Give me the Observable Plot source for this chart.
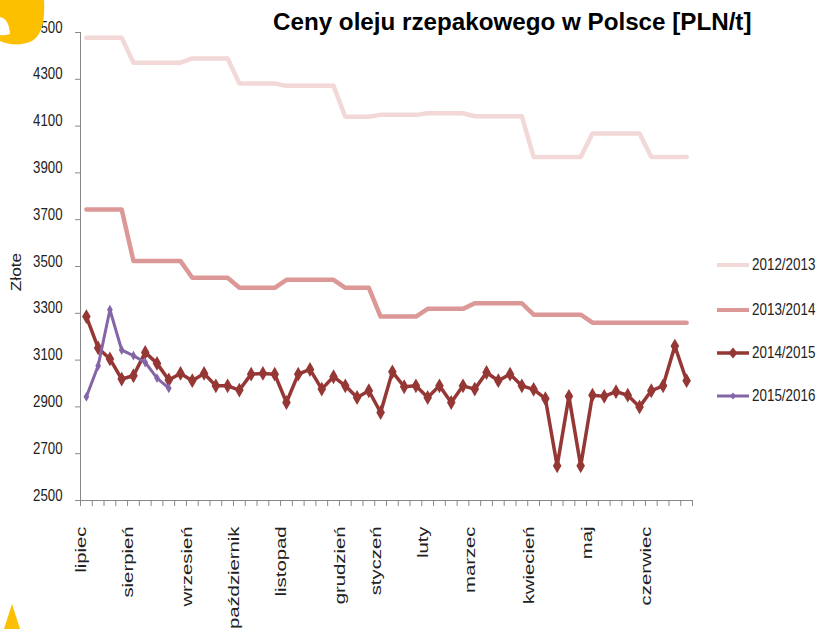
<!DOCTYPE html>
<html><head><meta charset="utf-8">
<script src="https://cdn.jsdelivr.net/npm/d3@7"></script>
<script src="https://cdn.jsdelivr.net/npm/@observablehq/plot@0.6"></script>
<style>
body{margin:0;background:#fff;}
#wrap{position:relative;width:816px;height:629px;overflow:hidden;font-family:"Liberation Sans",Arial,sans-serif;}
#title{position:absolute;left:273px;top:8px;font-weight:bold;font-size:24.2px;color:#000;white-space:nowrap;}
#ylab{position:absolute;left:15px;top:272px;font-size:15px;color:#222;transform:translate(-50%,-50%) rotate(-90deg) scaleX(1.15);white-space:nowrap;}
#legend{position:absolute;left:716px;top:0;}
.li{position:absolute;left:0;display:flex;align-items:center;white-space:nowrap;}
.li span{font-size:16.8px;color:#222;display:inline-block;transform:scaleX(0.8);transform-origin:0 50%;margin-left:2px;}
#deco{position:absolute;left:0;top:0;pointer-events:none;}
</style></head><body>
<div id="wrap"></div>
<script>
// x categories: 52 weekly points (July .. June)
const monthLabels = ["lipiec","sierpień","wrzesień","październik","listopad","grudzień","styczeń","luty","marzec","kwiecień","maj","czerwiec"];
const monthWeek   = [0,4,9,13,17,22,25,29,33,38,43,48];
const yTicks = [2500,2700,2900,3100,3300,3500,3700,3900,4100,4300,4500];
const seriesNames = ["2012/2013","2013/2014","2014/2015","2015/2016"];
const seriesColors = ["#f2d9d8","#dc9896","#953735","#8466a8"];

const s2012 = [4478,4478,4478,4478, 4371,4371,4371,4371,4371, 4389,4389,4389,4389, 4282,4282,4282,4282,
               4272,4272,4272,4272,4272, 4140,4140,4140, 4148,4148,4148,4148, 4155,4155,4155,4155,
               4142,4142,4142,4142,4142, 3968,3968,3968,3968,3968, 4068,4068,4068,4068,4068, 3968,3968,3968,3968];
const s2013 = [3744,3744,3744,3744, 3523,3523,3523,3523,3523, 3452,3452,3452,3452, 3409,3409,3409,3409,
               3443,3443,3443,3443,3443, 3409,3409,3409, 3286,3286,3286,3286, 3319,3319,3319,3319,
               3343,3343,3343,3343,3343, 3294,3294,3294,3294,3294, 3260,3260,3260,3260,3260,3260,3260,3260,3260];
const s2014 = [3286,3152,3105,3019,3033,3133,3086,3015,3043,3012,3043,2990,2990,2972,3040,3043,3040,2919,
               3040,3060,2976,3029,2990,2940,2969,2876,3050,2986,2990,2940,2990,2919,2990,2976,3047,3012,
               3040,2990,2975,2935,2648,2945,2648,2950,2945,2965,2950,2900,2969,2990,3160,3012];
const s2015 = [2943,3076,3315,3143,3119,3090,3023,2980];

const wrap = document.getElementById("wrap");
const font = '"Liberation Sans", Arial, sans-serif';
const X = (d,i)=>i, Y = d=>d;

const chart = Plot.plot({
  width: 816, height: 629,
  marginLeft: 80, marginRight: 124, marginTop: 32, marginBottom: 129,
  style: {fontFamily: font, background: "transparent", color: "#222"},
  x: {type: "linear", domain: [-0.5, 51.5]},
  y: {domain: [2500, 4500]},
  marks: [
    Plot.axisY({ticks: yTicks, tickSize: 5, tickPadding: 13, fontSize: 17, label: null, tickFormat: d=>String(d), stroke: "#888", fill: "#222"}),
    Plot.axisX({ticks: d3.range(-0.5, 52, 1), tickSize: 6, tickFormat: ()=>"", label: null, stroke: "#888"}),
    Plot.axisX({ticks: monthWeek, tickFormat: d=>monthLabels[monthWeek.indexOf(d)], tickRotate: -90, tickSize: 0, tickPadding: 26, fontSize: 14.5, label: null, fill: "#222"}),
    Plot.ruleX([-0.5], {stroke: "#888"}),
    Plot.ruleY([2500], {stroke: "#888"}),
    Plot.line(s2012, {x: X, y: Y, stroke: seriesColors[0], strokeWidth: 4.5}),
    Plot.line(s2013, {x: X, y: Y, stroke: seriesColors[1], strokeWidth: 4.5}),
    Plot.line(s2014, {x: X, y: Y, stroke: seriesColors[2], strokeWidth: 3.5}),
    Plot.dot(s2014, {x: X, y: Y, symbol: "diamond", r: 4.5, fill: seriesColors[2], stroke: "none"}),
    Plot.line(s2015, {x: X, y: Y, stroke: seriesColors[3], strokeWidth: 3}),
    Plot.dot(s2015, {x: X, y: Y, symbol: "diamond", r: 3, fill: seriesColors[3], stroke: "none"})
  ]
});
wrap.appendChild(chart);

function stretch(sel, sx, sy) {
  sel.each(function(){
    const t = this.getAttribute("transform") || "";
    const x = +this.getAttribute("x") || 0, y = +this.getAttribute("y") || 0;
    this.setAttribute("x", 0); this.setAttribute("y", 0);
    this.setAttribute("transform", `${t} translate(${x},${y}) scale(${sx},${sy})`);
  });
}
const svg = d3.select(chart);
stretch(svg.selectAll('g[aria-label="y-axis tick label"] text'), 0.78, 1);
const xl = svg.selectAll('g[aria-label="x-axis tick label"]');
stretch(d3.select(xl.nodes()[xl.nodes().length-1]).selectAll("text"), 1.4, 1);

// title, y label
const title = document.createElement("div"); title.id = "title";
title.textContent = "Ceny oleju rzepakowego w Polsce [PLN/t]";
wrap.appendChild(title);
const yl = document.createElement("div"); yl.id = "ylab"; yl.textContent = "Złote"; wrap.appendChild(yl);

// legend
const leg = document.createElement("div"); leg.id = "legend"; wrap.appendChild(leg);
const legY = [265, 310, 353, 396];
seriesNames.forEach((n,k)=>{
  const it = document.createElement("div"); it.className = "li"; it.style.top = (legY[k]-10)+"px";
  const w = k<2 ? 4 : (k==2 ? 3.5 : 3);
  const mk = k==2 ? `<path d="M17,4.5 L21.5,10 L17,15.5 L12.5,10Z" fill="${seriesColors[k]}"/>` :
             k==3 ? `<path d="M17,6.5 L20,10 L17,13.5 L14,10Z" fill="${seriesColors[k]}"/>` : "";
  it.innerHTML = `<svg width="34" height="20"><line x1="1" x2="33" y1="10" y2="10" stroke="${seriesColors[k]}" stroke-width="${w}"/>${mk}</svg><span>${n}</span>`;
  leg.appendChild(it);
});

// decorations
const deco = document.createElementNS("http://www.w3.org/2000/svg","svg");
deco.setAttribute("id","deco"); deco.setAttribute("width",816); deco.setAttribute("height",629);
deco.innerHTML = `<path d="M0,0 L44,0 C45,18 43,34 32,41 C22,46 9,45 0,41Z" fill="#fcc000"/>
<path d="M0,17 Q9,19 10,34 Q4,36 0,35Z" fill="#fff"/>
<path d="M4,629 L12,604 L20,629Z" fill="#fcc000"/>`;
wrap.appendChild(deco);
</script>
</body></html>
